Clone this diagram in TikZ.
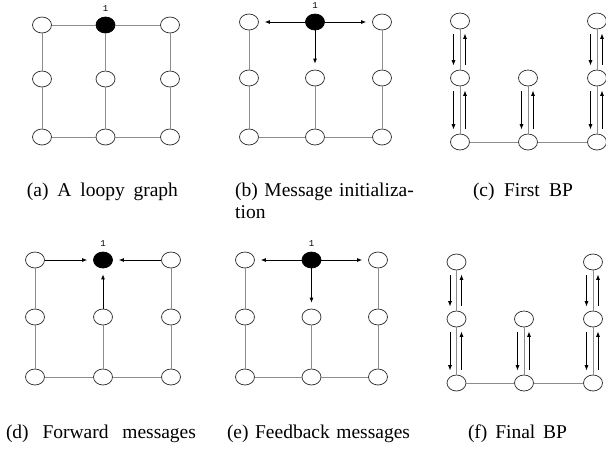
\documentclass[tikz,border=0pt]{standalone}
\usepackage{fontspec}
\setmainfont{Liberation Serif}
\setmonofont{Liberation Mono}
\usetikzlibrary{arrows.meta,shapes.geometric,positioning,calc}

\begin{document}
\begin{tikzpicture}[x=1pt,y=-1pt]

  \tikzstyle{every node}=[font=\fontsize{19.5}{22}\selectfont]

  \tikzset{vnode/.style={ellipse,draw=black!80,line width=0.75pt,fill=white,
      minimum width=19pt,minimum height=16pt,inner sep=0pt},
    rootnode/.style={vnode,draw=black,fill=black,
      label={[numlbl,label distance=4pt]above:1}},
    numlbl/.style={font=\fontsize{9}{9}\selectfont\ttfamily,inner sep=1pt},
    edge/.style={draw=black!45,line width=0.8pt},
    msg/.style={black,line width=0.8pt,-{Latex[length=5pt,width=4pt]},shorten >=6pt},
    bpmsg/.style={black,line width=0.8pt,-{Latex[length=5.5pt,width=4pt]},
      shorten <=5pt,shorten >=4pt},
    caption/.style={anchor=base,inner sep=0pt}}

  \useasboundingbox (0,0) rectangle (606,448);

  % (a) the loopy graph
  \node[vnode] (a11) at (42,25) {};
  \node[rootnode] (a12) at (105.5,25) {};
  \node[vnode] (a13) at (170,25) {};
  \node[vnode] (a21) at (42,79) {};
  \node[vnode] (a22) at (105.5,79) {};
  \node[vnode] (a23) at (170,79) {};
  \node[vnode] (a31) at (42,137) {};
  \node[vnode] (a32) at (105.5,137) {};
  \node[vnode] (a33) at (170,137) {};
  \draw[edge] (a11) -- (a12) -- (a13);
  \draw[edge] (a31) -- (a32) -- (a33);
  \draw[edge] (a11) -- (a21) -- (a31);
  \draw[edge] (a12) -- (a22) -- (a32);
  \draw[edge] (a13) -- (a23) -- (a33);
  \node[caption] (cap a) at (102.5,196.5) {\makebox[151pt][s]{(a) A loopy graph}};

  % (b) initial messages out of node 1
  \node[vnode] (b11) at (249,22) {};
  \node[rootnode] (b12) at (315,22) {};
  \node[vnode] (b13) at (382,22) {};
  \node[vnode] (b21) at (249,78) {};
  \node[vnode] (b22) at (315,78) {};
  \node[vnode] (b23) at (382,78) {};
  \node[vnode] (b31) at (249,137) {};
  \node[vnode] (b32) at (315,137) {};
  \node[vnode] (b33) at (382,137) {};
  \draw[edge] (b31) -- (b32) -- (b33);
  \draw[edge] (b11) -- (b21) -- (b31);
  \draw[edge] (b22) -- (b32);
  \draw[edge] (b13) -- (b23) -- (b33);
  \draw[msg] (b12) -- (b11);
  \draw[msg] (b12) -- (b13);
  \draw[msg] (b12) -- (b22);
  \node[anchor=north west,inner sep=0pt,text width=173pt,align=left] (cap b)
    at (235,182.5) {\makebox[173pt][s]{(b) Message initializa-}\\tion};

  % (c) first BP on the tree without node 1
  \node[vnode] (c11) at (460,21) {};
  \node[vnode] (c13) at (597,21) {};
  \node[vnode] (c21) at (460,78) {};
  \node[vnode] (c22) at (528,78) {};
  \node[vnode] (c23) at (597,78) {};
  \node[vnode] (c31) at (460,142) {};
  \node[vnode] (c32) at (528,142) {};
  \node[vnode] (c33) at (597,142) {};
  \draw[edge] (c31) -- (c32) -- (c33);
  \draw[edge] (c11) -- (c21) -- (c31);
  \draw[edge] (c22) -- (c32);
  \draw[edge] (c13) -- (c23) -- (c33);
  \draw[bpmsg] ([xshift=-6.5pt]c11.south) -- ([xshift=-6.5pt]c21.north);
  \draw[bpmsg] ([xshift=5pt]c21.north) -- ([xshift=5pt]c11.south);
  \draw[bpmsg] ([xshift=-6.5pt]c21.south) -- ([xshift=-6.5pt]c31.north);
  \draw[bpmsg] ([xshift=5pt]c31.north) -- ([xshift=5pt]c21.south);
  \draw[bpmsg] ([xshift=-6.5pt]c22.south) -- ([xshift=-6.5pt]c32.north);
  \draw[bpmsg] ([xshift=5pt]c32.north) -- ([xshift=5pt]c22.south);
  \draw[bpmsg] ([xshift=-6.5pt]c13.south) -- ([xshift=-6.5pt]c23.north);
  \draw[bpmsg] ([xshift=5pt]c23.north) -- ([xshift=5pt]c13.south);
  \draw[bpmsg] ([xshift=-6.5pt]c23.south) -- ([xshift=-6.5pt]c33.north);
  \draw[bpmsg] ([xshift=5pt]c33.north) -- ([xshift=5pt]c23.south);
  \node[caption] (cap c) at (523,196.5) {\makebox[100pt][s]{(c) First BP}};

  % (d) messages forwarded to node 1
  \node[vnode] (d11) at (35,260) {};
  \node[rootnode] (d12) at (103,260) {};
  \node[vnode] (d13) at (171,260) {};
  \node[vnode] (d21) at (35,317) {};
  \node[vnode] (d22) at (103,317) {};
  \node[vnode] (d23) at (171,317) {};
  \node[vnode] (d31) at (35,377) {};
  \node[vnode] (d32) at (103,377) {};
  \node[vnode] (d33) at (171,377) {};
  \draw[edge] (d31) -- (d32) -- (d33);
  \draw[edge] (d11) -- (d21) -- (d31);
  \draw[edge] (d22) -- (d32);
  \draw[edge] (d13) -- (d23) -- (d33);
  \draw[msg] (d11) -- (d12);
  \draw[msg] (d13) -- (d12);
  \draw[msg] (d22) -- (d12);
  \node[caption] (cap d) at (101,438.5) {\makebox[190pt][s]{(d) Forward messages}};

  % (e) feedback from node 1
  \node[vnode] (e11) at (245,260) {};
  \node[rootnode] (e12) at (311.5,260) {};
  \node[vnode] (e13) at (378,260) {};
  \node[vnode] (e21) at (245,317) {};
  \node[vnode] (e22) at (311.5,317) {};
  \node[vnode] (e23) at (378,317) {};
  \node[vnode] (e31) at (245,377) {};
  \node[vnode] (e32) at (311.5,377) {};
  \node[vnode] (e33) at (378,377) {};
  \draw[edge] (e31) -- (e32) -- (e33);
  \draw[edge] (e11) -- (e21) -- (e31);
  \draw[edge] (e22) -- (e32);
  \draw[edge] (e13) -- (e23) -- (e33);
  \draw[msg] (e12) -- (e11);
  \draw[msg] (e12) -- (e13);
  \draw[msg] (e12) -- (e22);
  \node[caption] (cap e) at (318.5,438.5) {\makebox[183pt][s]{(e) Feedback messages}};

  % (f) final BP on the tree
  \node[vnode] (f11) at (456.5,262) {};
  \node[vnode] (f13) at (593,262) {};
  \node[vnode] (f21) at (456.5,319) {};
  \node[vnode] (f22) at (524,319) {};
  \node[vnode] (f23) at (593,319) {};
  \node[vnode] (f31) at (456.5,383) {};
  \node[vnode] (f32) at (524,383) {};
  \node[vnode] (f33) at (593,383) {};
  \draw[edge] (f31) -- (f32) -- (f33);
  \draw[edge] (f11) -- (f21) -- (f31);
  \draw[edge] (f22) -- (f32);
  \draw[edge] (f13) -- (f23) -- (f33);
  \draw[bpmsg] ([xshift=-6.5pt]f11.south) -- ([xshift=-6.5pt]f21.north);
  \draw[bpmsg] ([xshift=5pt]f21.north) -- ([xshift=5pt]f11.south);
  \draw[bpmsg] ([xshift=-6.5pt]f21.south) -- ([xshift=-6.5pt]f31.north);
  \draw[bpmsg] ([xshift=5pt]f31.north) -- ([xshift=5pt]f21.south);
  \draw[bpmsg] ([xshift=-6.5pt]f22.south) -- ([xshift=-6.5pt]f32.north);
  \draw[bpmsg] ([xshift=5pt]f32.north) -- ([xshift=5pt]f22.south);
  \draw[bpmsg] ([xshift=-6.5pt]f13.south) -- ([xshift=-6.5pt]f23.north);
  \draw[bpmsg] ([xshift=5pt]f23.north) -- ([xshift=5pt]f13.south);
  \draw[bpmsg] ([xshift=-6.5pt]f23.south) -- ([xshift=-6.5pt]f33.north);
  \draw[bpmsg] ([xshift=5pt]f33.north) -- ([xshift=5pt]f23.south);
  \node[caption] (cap f) at (517.5,438.5) {\makebox[99pt][s]{(f) Final BP}};

\end{tikzpicture}
\end{document}
